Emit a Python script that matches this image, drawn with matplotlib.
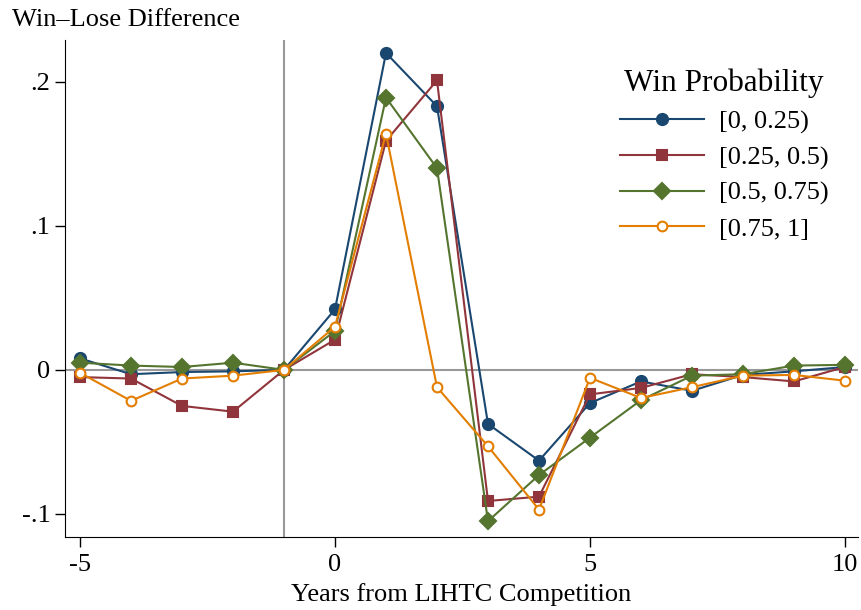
import matplotlib
matplotlib.use("Agg")
import matplotlib.pyplot as plt

plt.rcParams["font.family"] = ["Liberation Serif", "DejaVu Serif"]

# Data
years = list(range(-5, 11))
labels = ["[0, 0.25)", "[0.25, 0.5)", "[0.5, 0.75)", "[0.75, 1]"]
q1 = [0.008, -0.003, -0.0015, -0.001, 0.0, 0.042, 0.220, 0.183, -0.0375, -0.063,
      -0.023, -0.008, -0.0145, -0.0035, -0.001, 0.002]
q2 = [-0.005, -0.006, -0.025, -0.029, 0.0, 0.021, 0.159, 0.201, -0.091, -0.088,
      -0.017, -0.0125, -0.003, -0.005, -0.008, 0.002]
q3 = [0.005, 0.003, 0.002, 0.005, 0.0, 0.027, 0.189, 0.140, -0.105, -0.073,
      -0.047, -0.021, -0.004, -0.003, 0.003, 0.0035]
q4 = [-0.002, -0.0215, -0.006, -0.004, 0.0, 0.030, 0.164, -0.012, -0.053, -0.097,
      -0.0055, -0.0195, -0.012, -0.004, -0.0035, -0.0075]

colors = ["#1a476f", "#90353b", "#55752f", "#e37e00"]
markers = ["o", "s", "D", "o"]
sizes = [8, 7.8, 8, 7]

fig = plt.figure(figsize=(8.62, 6.1), dpi=100)
ax = fig.add_axes([65 / 862, 1 - 537 / 610, (858 - 65) / 862, (537 - 40) / 610])

ax.axhline(0, color="#999999", lw=1.5, zorder=1)
ax.axvline(-1, color="#999999", lw=1.5, zorder=1)

for i, (vals, lab) in enumerate(zip([q1, q2, q3, q4], labels)):
    face = "white" if i == 3 else colors[i]
    ax.plot(years, vals, color=colors[i], marker=markers[i], ms=sizes[i], lw=1.5,
            markerfacecolor=face, markeredgecolor=colors[i], mew=1.5,
            label=lab, zorder=2 + i)

ax.set_xlim(-5.294, 10.255)
ax.set_ylim(-0.116, 0.229)
ax.set_xticks([-5, 0, 5, 10])
ax.set_xticklabels(["-5", "0", "5", "10"])
ax.set_yticks([-0.1, 0, 0.1, 0.2])
ax.set_yticklabels(["-.1", "0", ".1", ".2"])
ax.tick_params(direction="out", length=7, width=1, labelsize=19, colors="black")
ax.tick_params(axis="x", pad=5)
for s in ["top", "right"]:
    ax.spines[s].set_visible(False)
ax.set_xlabel("Years from LIHTC Competition", fontsize=19, labelpad=5)

fig.text(12 / 862, 1 - 20 / 610, "Win\u2013Lose Difference", fontsize=19,
         ha="left", va="center")

leg = ax.legend(title="Win Probability", loc="upper right", frameon=False,
                fontsize=19, title_fontsize=22.5, handlelength=3.2,
                handletextpad=0.55, labelspacing=0.45, borderaxespad=0,
                bbox_to_anchor=(839 / 862, 1 - 58 / 610),
                bbox_transform=fig.transFigure)

fig.savefig("out.png", dpi=100)
